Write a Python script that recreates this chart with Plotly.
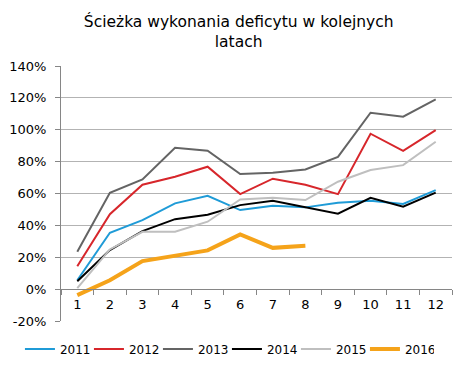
import plotly.graph_objects as go

months = ["1", "2", "3", "4", "5", "6", "7", "8", "9", "10", "11", "12"]
y2011 = [5.6, 35.4, 43.3, 53.8, 58.6, 49.6, 52.3, 51.3, 54.2, 55.5, 53.4, 62.1]
y2012 = [14.4, 47.0, 65.5, 70.5, 76.8, 59.6, 69.3, 65.5, 59.6, 97.5, 86.8, 99.8]
y2013 = [23.4, 60.5, 68.8, 88.7, 86.8, 72.2, 73.0, 75.1, 83.0, 110.7, 108.2, 119.0]
y2014 = [5.0, 24.5, 36.4, 43.9, 46.7, 52.7, 55.5, 51.3, 47.3, 57.3, 51.7, 60.5]
y2015 = [0.6, 24.9, 36.0, 36.0, 42.3, 56.3, 57.3, 55.9, 67.4, 74.7, 77.8, 92.5]
y2016 = [-3.8, 5.6, 17.6, 20.7, 24.3, 34.3, 25.9, 27.2]

y_tick_values = [-20, 0, 20, 40, 60, 80, 100, 120, 140]
y_tick_labels = ["-20%", "0%", "20%", "40%", "60%", "80%", "100%", "120%", "140%"]

series = [
    ("2011", y2011, "#1f9bd7", 2),
    ("2012", y2012, "#d7262b", 2),
    ("2013", y2013, "#646464", 2),
    ("2014", y2014, "#000000", 2),
    ("2015", y2015, "#bfbfbf", 2),
    ("2016", y2016, "#f5a31a", 4),
]

fig = go.Figure()
for name, ys, color, w in series:
    fig.add_trace(go.Scatter(
        x=months[:len(ys)], y=ys, name=name, mode="lines",
        line=dict(color=color, width=w),
    ))

font = "Verdana, DejaVu Sans, sans-serif"
fig.update_layout(
    width=468, height=369,
    margin=dict(l=61, r=16, t=66, b=48, autoexpand=False),
    paper_bgcolor="white", plot_bgcolor="white",
    font=dict(family=font, size=13, color="#000000"),
    title=dict(
        text="Ścieżka wykonania deficytu w kolejnych<br>latach",
        x=0.51, xanchor="center", y=0.927, yanchor="top",
        font=dict(family=font, size=15.5, color="#000000"),
    ),
    showlegend=True,
    legend=dict(
        orientation="h", xref="paper", yref="paper",
        x=-0.105, xanchor="left", y=-0.11, yanchor="middle",
        font=dict(family=font, size=12), entrywidth=24, entrywidthmode="pixels",
        itemwidth=30, tracegroupgap=0,
    ),
    xaxis=dict(
        type="category", tickson="boundaries", anchor="free", position=0.125,
        showline=True, linecolor="#868686", linewidth=1,
        ticks="outside", ticklen=5, tickcolor="#868686",
        showgrid=False, zeroline=False, ticklabelstandoff=3,
        tickfont=dict(family=font, size=13),
        range=[-0.5, 11.5],
    ),
    yaxis=dict(
        range=[-20, 140], tickvals=y_tick_values, ticktext=y_tick_labels,
        showline=True, linecolor="#868686", linewidth=1,
        ticks="outside", ticklen=5, tickcolor="#868686",
        showgrid=True, gridcolor="#b3b3b3", gridwidth=1,
        zeroline=False, ticklabelstandoff=6,
        tickfont=dict(family=font, size=13),
    ),
)

fig.write_html("out.html", config={"displayModeBar": False},
               post_script="document.body.style.margin='0';")
